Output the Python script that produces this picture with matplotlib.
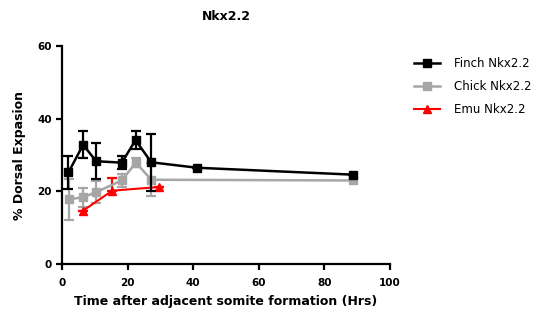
import numpy as np
import matplotlib
matplotlib.use('Agg')
import matplotlib.pyplot as plt

plt.rcParams['font.family'] = ['DejaVu Sans']

# Finch Nkx2.2
finch_t = [1.9, 6.4, 10.4, 18.2, 22.4, 27.2, 41.2, 88.8]
finch_y = [25.2, 32.8, 28.3, 27.9, 34.1, 28.0, 26.5, 24.6]
finch_err = [4.6, 3.7, 5.0, 1.8, 2.5, 7.8, 0, 0]

# Chick Nkx2.2
chick_t = [2.1, 6.4, 10.4, 18.2, 22.5, 27.2, 88.8]
chick_y = [17.8, 18.4, 19.8, 23.0, 27.9, 23.2, 23.0]
chick_err = [5.7, 2.6, 3.1, 1.8, 1.2, 4.5, 0]

# Emu Nkx2.2 (only the upper error is drawn)
emu_t = [6.4, 15.3, 29.6]
emu_y = [14.7, 20.2, 21.2]
emu_err_up = [0, 3.4, 0]

fig = plt.figure(figsize=(5.6, 3.24), dpi=100)
ax = fig.add_axes([0.111, 0.185, 0.585, 0.673])

kw = dict(markersize=5.5, elinewidth=1.6, capsize=3.5, capthick=1.6)
f = ax.errorbar(finch_t, finch_y, yerr=finch_err, color='black', marker='s',
                linewidth=1.8, label='Finch Nkx2.2', zorder=3, **kw)
c = ax.errorbar(chick_t, chick_y, yerr=chick_err, color='#a6a6a6', marker='s',
                linewidth=1.8, label='Chick Nkx2.2', zorder=2, **kw)
e = ax.errorbar(emu_t, emu_y, yerr=[[0] * len(emu_t), emu_err_up], color='#ff0000', marker='^',
                linewidth=1.5, label='Emu Nkx2.2', zorder=2, **kw)

ax.set_xlim(0, 100)
ax.set_ylim(0, 60)
ax.set_xticks([0, 20, 40, 60, 80, 100])
ax.set_yticks([0, 20, 40, 60])
ax.spines['top'].set_visible(False)
ax.spines['right'].set_visible(False)
ax.spines['left'].set_linewidth(1.6)
ax.spines['bottom'].set_linewidth(1.6)
ax.tick_params(width=1.6, length=4, labelsize=7.5)
for lbl in ax.get_xticklabels() + ax.get_yticklabels():
    lbl.set_fontweight('bold')
ax.xaxis.set_tick_params(pad=6)

ax.set_title('Nkx2.2', fontsize=9, fontweight='bold', pad=19)
ax.set_xlabel('Time after adjacent somite formation (Hrs)', fontsize=9, fontweight='bold', labelpad=5)
ax.set_ylabel('% Dorsal Expasion', fontsize=9, fontweight='bold', labelpad=8)

ax.legend([f[0], c[0], e[0]], ['Finch Nkx2.2', 'Chick Nkx2.2', 'Emu Nkx2.2'],
          loc='upper left', bbox_to_anchor=(1.06, 0.97), frameon=False, fontsize=8.5,
          handlelength=2.2, handletextpad=1.2, labelspacing=0.85, borderaxespad=0)

fig.savefig('out.png', dpi=100)
